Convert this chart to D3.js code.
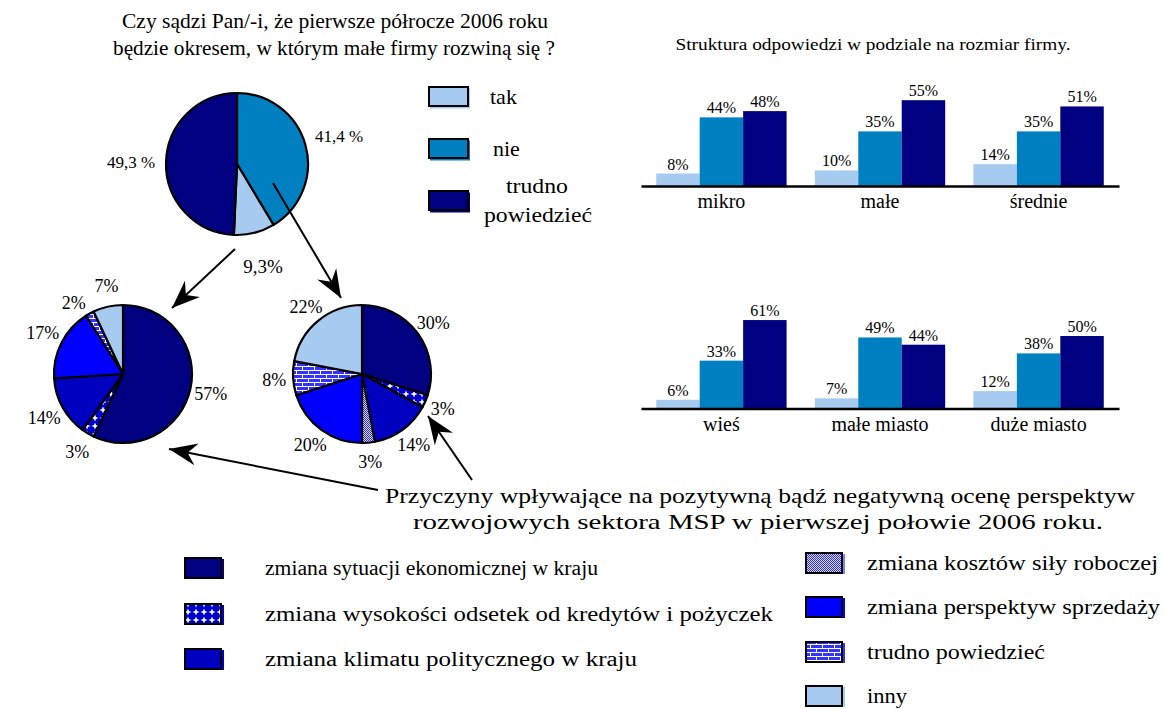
<!DOCTYPE html>
<html>
<head>
<meta charset="utf-8">
<script src="https://cdn.jsdelivr.net/npm/d3@7"></script>
<style>
  body { margin: 0; background: #fff; }
  svg { display: block; font-family: "Liberation Serif", "Times New Roman", serif; }
</style>
</head>
<body>
<svg width="1165" height="709"></svg>
<script>
// ---- data ----
const topCats = ["nie", "tak", "trudno powiedzieć"];
const topValues = [41.4, 9.3, 49.3];
const topLabels = ["41,4 %", "9,3%", "49,3 %"];

const legendTop = ["tak", "nie", "trudno powiedzieć"];

const reasons = ["ekonomiczna", "odsetki", "klimat", "koszty", "sprzedaz", "trudno", "inny"];
const reasonNames = [
  "zmiana sytuacji ekonomicznej w kraju",
  "zmiana wysokości odsetek od kredytów i pożyczek",
  "zmiana klimatu politycznego w kraju",
  "zmiana kosztów siły roboczej",
  "zmiana perspektyw sprzedaży",
  "trudno powiedzieć",
  "inny"
];
// "tak" pie (lower left), clockwise from 12 o'clock
const yesCats = ["ekonomiczna", "odsetki", "klimat", "sprzedaz", "trudno", "inny"];
const yesValues = [57, 3, 14, 17, 2, 7];
// "nie" pie (lower right)
const noCats = ["ekonomiczna", "odsetki", "klimat", "koszty", "sprzedaz", "trudno", "inny"];
const noValues = [30, 3, 14, 3, 20, 8, 22];

const series = ["tak", "nie", "trudno"];
const sizeCats = ["mikro", "małe", "średnie"];
const sizeValues = [[8, 44, 48], [10, 35, 55], [14, 35, 51]];
const placeCats = ["wieś", "małe miasto", "duże miasto"];
const placeValues = [[6, 33, 61], [7, 49, 44], [12, 38, 50]];

// ---- colours ----
const answerColor = d3.scaleOrdinal().domain(["tak", "nie", "trudno"]).range(["#a6caf0", "#0080c0", "#000080"]);
const legendTopColor = d3.scaleOrdinal().domain(legendTop).range(["#a6caf0", "#0080c0", "#000080"]);
const reasonFill = d3.scaleOrdinal().domain(reasons)
  .range(["#000080", "url(#pat-odsetki)", "#0000c0", "url(#pat-koszty)", "#0000ff", "url(#pat-trudno)", "#a6caf0"]);
const reasonShadow = d3.scaleOrdinal().domain(reasons)
  .range(["#000080", "#0000c0", "#0000c0", "#8080ff", "#0000ff", "#3333ff", "#a6caf0"]);

// the reference text is drawn wider than the font, so stretch to a width
function fit(sel, w) {
  return sel.attr("textLength", w).attr("lengthAdjust", "spacingAndGlyphs");
}
// legend text widths, same order as reasons
const legendTextW = [333, 508, 372, 291, 293, 178, 40];

const svg = d3.select("svg");
svg.append("rect").attr("width", 1165).attr("height", 709).attr("fill", "#fff");
const defs = svg.append("defs");

// patterns
const pOds = defs.append("pattern").attr("id", "pat-odsetki").attr("patternUnits", "userSpaceOnUse").attr("width", 8).attr("height", 8);
pOds.append("rect").attr("width", 8).attr("height", 8).attr("fill", "#0000cc");
pOds.append("path").attr("d", "M4,0.5 L5,3 L7.5,4 L5,5 L4,7.5 L3,5 L0.5,4 L3,3 Z").attr("fill", "#fff");

const pKos = defs.append("pattern").attr("id", "pat-koszty").attr("patternUnits", "userSpaceOnUse").attr("width", 2).attr("height", 2);
pKos.append("rect").attr("width", 2).attr("height", 2).attr("fill", "#d8d8ff");
pKos.append("rect").attr("width", 1).attr("height", 1).attr("fill", "#3030d0");
pKos.append("rect").attr("x", 1).attr("y", 1).attr("width", 1).attr("height", 1).attr("fill", "#3030d0");

const pTru = defs.append("pattern").attr("id", "pat-trudno").attr("patternUnits", "userSpaceOnUse").attr("width", 12).attr("height", 8);
pTru.append("rect").attr("width", 12).attr("height", 8).attr("fill", "#3333ff");
pTru.append("path").attr("d", "M0,0.5 H12 M0,4.5 H12 M0.5,0 V4 M6.5,4 V8").attr("stroke", "#fff").attr("stroke-width", 1);

// arrowhead
defs.append("marker").attr("id", "arrow").attr("markerUnits", "userSpaceOnUse")
  .attr("viewBox", "-30 -12 32 24").attr("refX", 0).attr("refY", 0)
  .attr("markerWidth", 32).attr("markerHeight", 24).attr("orient", "auto")
  .append("path").attr("d", "M0,0 L-28,-11 L-19,0 L-28,11 Z").attr("fill", "#000");

// ---- titles ----
fit(svg.append("text").attr("x", 335).attr("y", 28).attr("text-anchor", "middle").attr("font-size", 21)
  .text("Czy sądzi Pan/-i, że pierwsze półrocze 2006 roku"), 426);
fit(svg.append("text").attr("x", 334).attr("y", 55).attr("text-anchor", "middle").attr("font-size", 21)
  .text("będzie okresem, w którym małe firmy rozwiną się ?"), 442);

// ---- pies ----
function drawPie(cx, cy, r, cats, values, fillFn, labels, labelR, fontSize) {
  const pie = d3.pie().sort(null).value(d => d)(values);
  const arc = d3.arc().innerRadius(0).outerRadius(r);
  const lab = d3.arc().innerRadius(labelR).outerRadius(labelR);
  const g = svg.append("g").attr("transform", `translate(${cx},${cy})`);
  g.selectAll("path").data(pie).join("path")
    .attr("d", arc)
    .attr("fill", (d, i) => fillFn(cats[i]))
    .attr("stroke", "#000").attr("stroke-width", 2.2).attr("stroke-linejoin", "round");
  g.selectAll("text").data(pie).join("text")
    .attr("x", d => lab.centroid(d)[0])
    .attr("y", d => lab.centroid(d)[1])
    .attr("dy", "0.35em")
    .attr("text-anchor", "middle")
    .attr("font-size", fontSize)
    .text((d, i) => labels[i]);
  return g;
}

const topPie = drawPie(237, 164, 71, topCats, topValues, c => legendTopColor(c), topLabels, 106, 17);
topPie.selectAll("text").filter((d, i) => i === 1).attr("font-size", 19);
const yesPie = drawPie(123, 374, 69, yesCats, yesValues, reasonFill, yesValues.map(v => v + "%"), 90, 18);
// the two small labels at the top are spread apart a little
yesPie.selectAll("text").filter((d, i) => i === 4).attr("dx", -6).attr("dy", "0.75em");
yesPie.selectAll("text").filter((d, i) => i === 5).attr("dx", 3);
drawPie(362, 374, 69, noCats, noValues, reasonFill, noValues.map(v => v + "%"), 88, 18);

// ---- top legend ----
const lg = svg.append("g");
legendTop.forEach((k, i) => {
  const y = [87, 139, 191][i];
  lg.append("rect").attr("x", 430).attr("y", y + 1.5).attr("width", 40).attr("height", 20).attr("fill", legendTopColor(k));
  lg.append("rect").attr("x", 429).attr("y", y).attr("width", 39).attr("height", 19)
    .attr("fill", legendTopColor(k)).attr("stroke", "#000").attr("stroke-width", 2);
});
lg.append("text").attr("x", 490).attr("y", 104).attr("font-size", 22).text("tak");
lg.append("text").attr("x", 493).attr("y", 156).attr("font-size", 22).text("nie");
fit(lg.append("text").attr("x", 537).attr("y", 193).attr("text-anchor", "middle").attr("font-size", 22).text("trudno"), 62);
fit(lg.append("text").attr("x", 538).attr("y", 222).attr("text-anchor", "middle").attr("font-size", 22).text("powiedzieć"), 108);

// ---- arrows ----
const arrows = [
  [235, 249, 172, 308],
  [273, 183, 341, 298],
  [378, 490, 169, 449],
  [472, 480, 428, 416]
];
svg.append("g").selectAll("line").data(arrows).join("line")
  .attr("x1", d => d[0]).attr("y1", d => d[1]).attr("x2", d => d[2]).attr("y2", d => d[3])
  .attr("stroke", "#000").attr("stroke-width", 2).attr("marker-end", "url(#arrow)");

// ---- reasons text ----
fit(svg.append("text").attr("x", 760).attr("y", 503).attr("text-anchor", "middle").attr("font-size", 21)
  .text("Przyczyny wpływające na pozytywną bądź negatywną ocenę perspektyw"), 750);
fit(svg.append("text").attr("x", 758).attr("y", 529).attr("text-anchor", "middle").attr("font-size", 21)
  .text("rozwojowych sektora MSP w pierwszej połowie 2006 roku."), 690);

// ---- bottom legend ----
const leftItems = ["ekonomiczna", "odsetki", "klimat"];
const rightItems = ["koszty", "sprzedaz", "trudno", "inny"];
function legendItem(key, bx, by, tx) {
  const idx = reasons.indexOf(key);
  svg.append("rect").attr("x", bx + 2).attr("y", by + 1).attr("width", 37).attr("height", 20).attr("fill", reasonShadow(key));
  svg.append("rect").attr("x", bx).attr("y", by).attr("width", 36).attr("height", 20)
    .attr("fill", reasonFill(key)).attr("stroke", "#000").attr("stroke-width", 2);
  fit(svg.append("text").attr("x", tx).attr("y", by + 17).attr("font-size", 20)
    .text(reasonNames[idx]), legendTextW[idx]);
}
leftItems.forEach((k, i) => legendItem(k, 185, [558, 604, 649][i], 265));
rightItems.forEach((k, i) => legendItem(k, 806, [553, 597, 642, 686][i], 867));

// ---- bar charts ----
fit(svg.append("text").attr("x", 873).attr("y", 50).attr("text-anchor", "middle").attr("font-size", 16)
  .text("Struktura odpowiedzi w podziale na rozmiar firmy."), 395);

function drawBars(cats, values, baseY, pxPerPct) {
  const x = d3.scaleBand().domain(cats).range([641, 1119]).paddingInner(0.178).paddingOuter(0.096);
  const xs = d3.scaleBand().domain(series).range([0, x.bandwidth()]);
  const y = d3.scaleLinear().domain([0, 100]).range([baseY, baseY - 100 * pxPerPct]);
  const g = svg.append("g");
  const grp = g.selectAll("g.grp").data(cats).join("g").attr("class", "grp")
    .attr("transform", d => `translate(${x(d)},0)`);
  grp.selectAll("rect").data((c, i) => values[i].map((v, j) => ({ s: series[j], v })))
    .join("rect")
    .attr("x", d => xs(d.s)).attr("width", xs.bandwidth())
    .attr("y", d => y(d.v)).attr("height", d => baseY - y(d.v))
    .attr("fill", d => answerColor(d.s));
  grp.selectAll("text").data((c, i) => values[i].map((v, j) => ({ s: series[j], v })))
    .join("text")
    .attr("x", d => xs(d.s) + xs.bandwidth() / 2).attr("y", d => y(d.v) - 4)
    .attr("text-anchor", "middle").attr("font-size", 16)
    .text(d => d.v + "%");
  const axis = g.append("g").attr("transform", `translate(0,${baseY})`)
    .call(d3.axisBottom(x).tickSize(0).tickPadding(8));
  axis.select(".domain").attr("stroke", "#000").attr("stroke-width", 2.5);
  axis.selectAll("text").attr("font-size", 20).attr("font-family", "Liberation Serif").attr("fill", "#000");
}
drawBars(sizeCats, sizeValues, 186, 1.56);
drawBars(placeCats, placeValues, 408.5, 1.45);
</script>
</body>
</html>
